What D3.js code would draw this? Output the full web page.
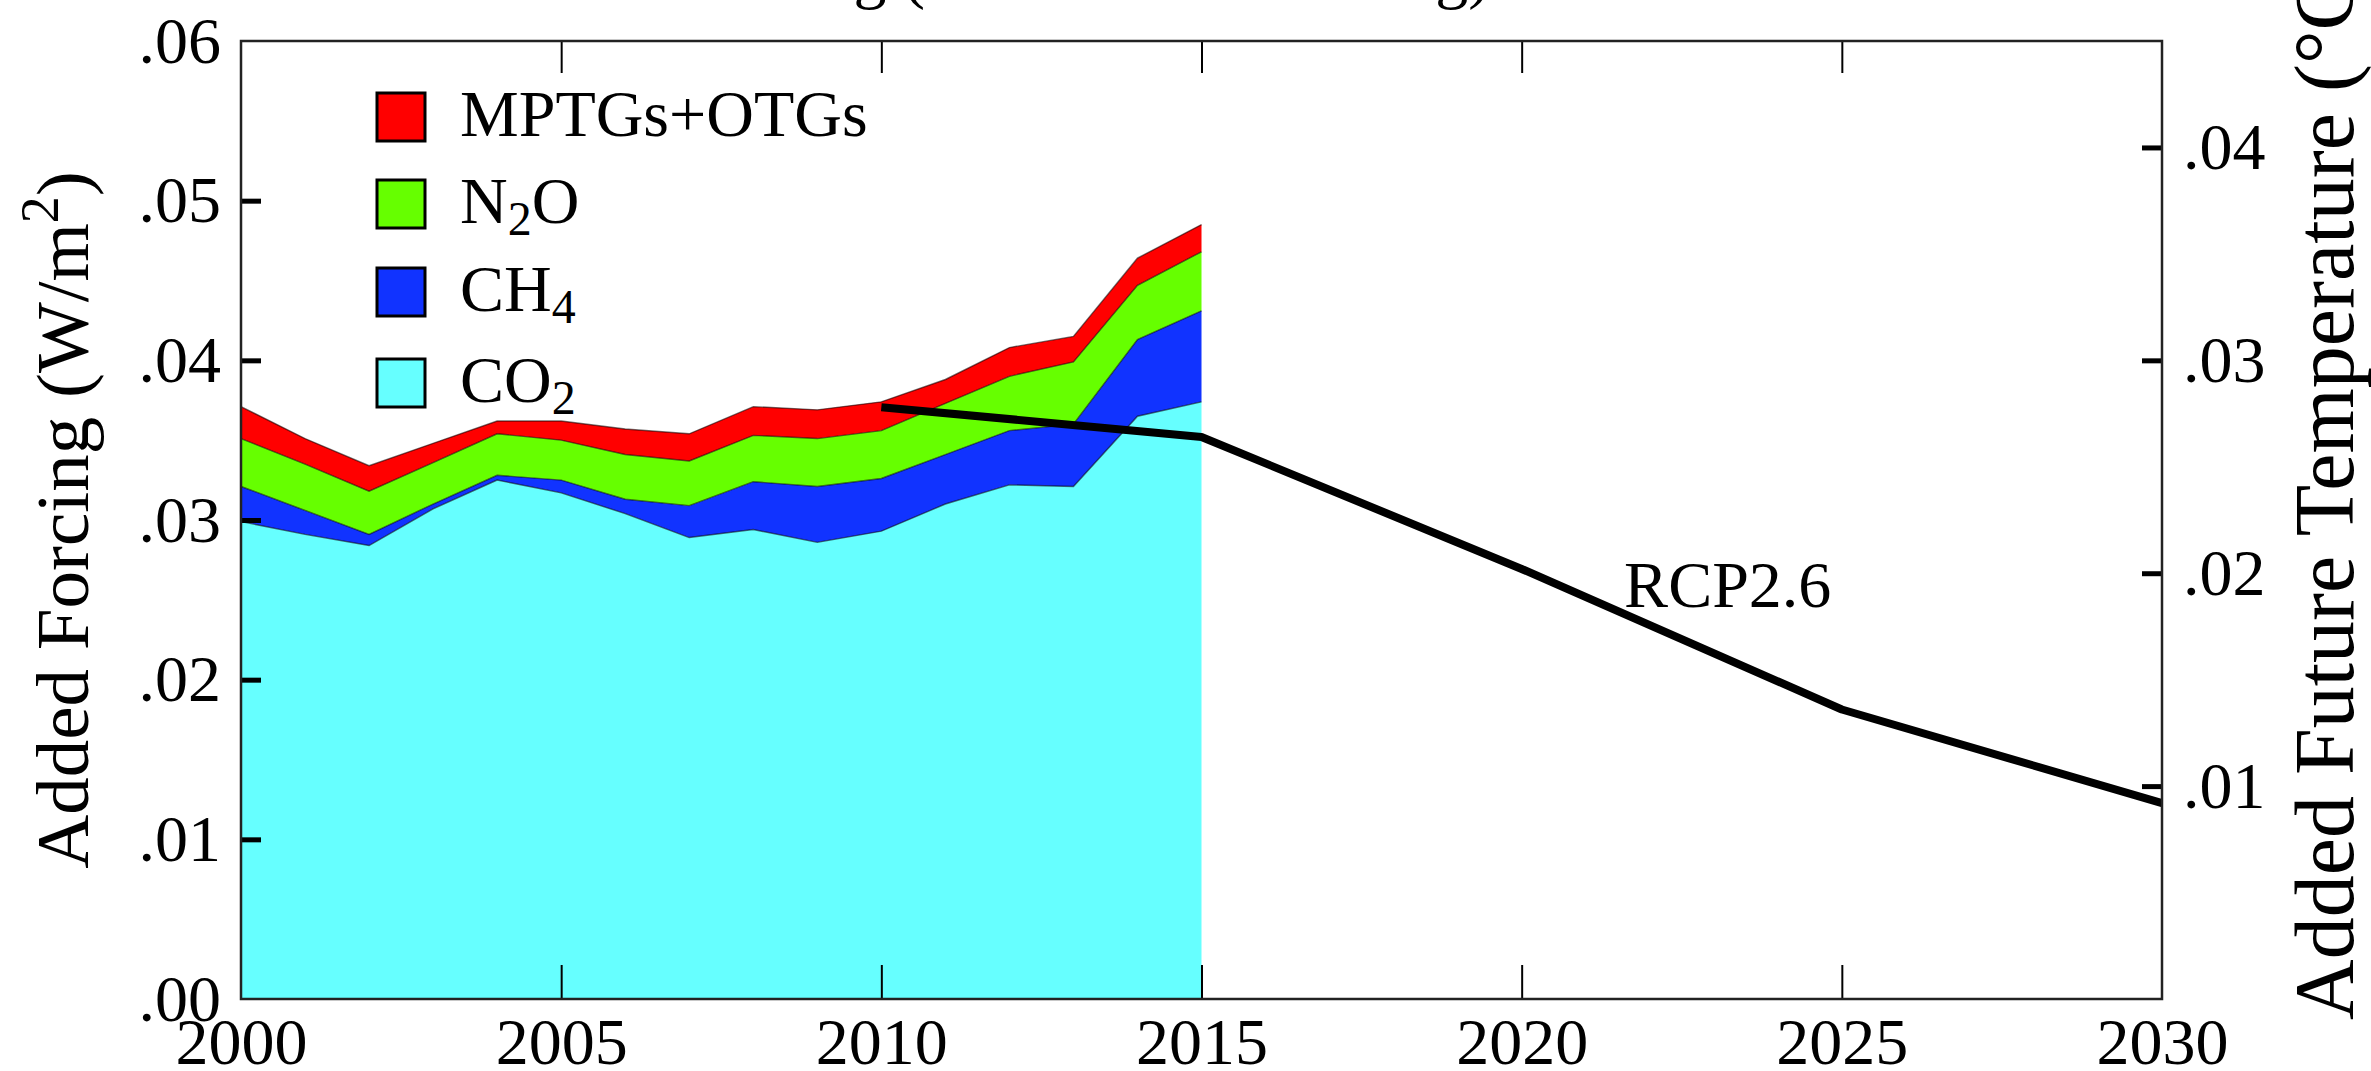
<!DOCTYPE html>
<html>
<head>
<meta charset="utf-8">
<script src="https://cdn.jsdelivr.net/npm/d3@7"></script>
<style>
  html, body { margin: 0; padding: 0; background: #fff; overflow: hidden; }
  svg { display: block; }
  text { font-family: "Liberation Serif", "Times New Roman", serif; fill: #000; }
</style>
</head>
<body>
<svg id="chart" width="2371" height="1071"></svg>
<script>
// Annual added forcing (W/m2) by gas, 2000-2015
const years      = [2000, 2001, 2002, 2003, 2004, 2005, 2006, 2007, 2008, 2009, 2010, 2011, 2012, 2013, 2014, 2015];
const co2        = [0.0299, 0.0291, 0.0284, 0.0307, 0.0325, 0.0317, 0.0304, 0.0289, 0.0294, 0.0286, 0.0293, 0.0310, 0.0322, 0.0321, 0.0365, 0.0374];
const ch4        = [0.0022, 0.0015, 0.0007, 0.0003, 0.0003, 0.0008, 0.0009, 0.0020, 0.0030, 0.0035, 0.0033, 0.0031, 0.0034, 0.0039, 0.0048, 0.0057];
const n2o        = [0.0030, 0.0029, 0.0027, 0.0026, 0.0026, 0.0025, 0.0028, 0.0028, 0.0029, 0.0030, 0.0030, 0.0032, 0.0034, 0.0039, 0.0034, 0.0037];
const otherGases = [0.0020, 0.0016, 0.0016, 0.0012, 0.0008, 0.0012, 0.0016, 0.0017, 0.0018, 0.0018, 0.0018, 0.0015, 0.0018, 0.0016, 0.0017, 0.0017];

// RCP2.6 added future temperature (deg C)
const rcpYears = [2010, 2015, 2020, 2025, 2030];
const rcpTemp  = [0.0278, 0.0264, 0.0202, 0.0136, 0.0092];

// Axis ticks
const yearTicks    = [2000, 2005, 2010, 2015, 2020, 2025, 2030];
const forcingTicks = [0, 0.01, 0.02, 0.03, 0.04, 0.05, 0.06];
const tempTicks    = [0.01, 0.02, 0.03, 0.04];

// Series keys, colours and legend labels (bottom of stack first)
const seriesKeys   = ["co2", "ch4", "n2o", "other"];
const seriesColors = ["#66ffff", "#1133ff", "#66ff00", "#ff0000"];
const seriesLabels = [
  [["CO", false], ["2", true]],
  [["CH", false], ["4", true]],
  [["N", false], ["2", true], ["O", false]],
  [["MPTGs+OTGs", false]]
];

const titleText = "Added Forcing (and Future Warming)";
const leftTitle = "Added Forcing (W/m";
const rightTitle = "Added Future Temperature (\u00B0C)";

// ---------------------------------------------------------------
const svg = d3.select("#chart");
const plot = { left: 241, right: 2162, top: 41, bottom: 999 };

const x  = d3.scaleLinear().domain([2000, 2030]).range([plot.left, plot.right]);
const yL = d3.scaleLinear().domain([0, 0.06]).range([plot.bottom, plot.top]);
const yR = d3.scaleLinear().domain([0, 0.045]).range([plot.bottom, plot.top]);

const rows = years.map((yr, i) => ({ year: yr, co2: co2[i], ch4: ch4[i], n2o: n2o[i], other: otherGases[i] }));
const stacked = d3.stack().keys(seriesKeys)(rows);

const area = d3.area()
  .x(d => x(d.data.year))
  .y0(d => yL(d[0]))
  .y1(d => yL(d[1]));

const topEdge = d3.line()
  .x(d => x(d.data.year))
  .y(d => yL(d[1]));

// stacked areas
const layers = svg.append("g");
layers.selectAll("path.layer")
  .data(stacked)
  .join("path")
  .attr("class", "layer")
  .attr("fill", (d, i) => seriesColors[i])
  .attr("d", area);

// thin dark edges on layer boundaries
layers.selectAll("path.edge")
  .data(stacked)
  .join("path")
  .attr("class", "edge")
  .attr("fill", "none")
  .attr("stroke", "#000")
  .attr("stroke-opacity", 0.55)
  .attr("stroke-width", 1.4)
  .attr("d", topEdge);

// RCP2.6 temperature projection
const rcpLine = d3.line()
  .x(d => x(d[0]))
  .y(d => yR(d[1]));
svg.append("path")
  .datum(rcpYears.map((yr, i) => [yr, rcpTemp[i]]))
  .attr("fill", "none")
  .attr("stroke", "#000")
  .attr("stroke-width", 8)
  .attr("stroke-linejoin", "round")
  .attr("d", rcpLine);

svg.append("text")
  .attr("x", x(2021.6))
  .attr("y", yR(0.0184))
  .attr("font-size", 66)
  .text("RCP2.6");

// legend
const legend = svg.append("g");
const legendTop = [93, 180, 268, 359];
const order = [3, 2, 1, 0];
order.forEach((si, row) => {
  const ty = legendTop[row];
  legend.append("rect")
    .attr("x", 377).attr("y", ty)
    .attr("width", 48).attr("height", 48)
    .attr("fill", seriesColors[si])
    .attr("stroke", "#000").attr("stroke-width", 3);
  const t = legend.append("text")
    .attr("x", 460).attr("y", ty + 43)
    .attr("font-size", 66);
  seriesLabels[si].forEach(([s, sub]) => {
    const ts = t.append("tspan").text(s);
    if (sub) ts.attr("font-size", 48).attr("dy", 12);
    else ts.attr("dy", t.selectAll("tspan").size() > 1 ? -12 : 0);
  });
});

// axes
const fmtForcing = d => d3.format(".2f")(d).replace(/^0/, "");

function styleAxis(g, fontSize) {
  g.select(".domain").remove();
  g.selectAll("text")
    .attr("font-family", "'Liberation Serif', 'Times New Roman', serif")
    .attr("font-size", fontSize)
    .attr("fill", "#000");
}

const leftAxis = svg.append("g")
  .attr("transform", `translate(${plot.left},0)`)
  .call(d3.axisLeft(yL).tickValues(forcingTicks).tickFormat(fmtForcing)
    .tickSizeInner(-20).tickSizeOuter(0).tickPadding(20))
  .call(g => styleAxis(g, 66));
leftAxis.selectAll(".tick line")
  .attr("stroke", "#000").attr("stroke-width", 5)
  .attr("display", d => (d === 0 || d === 0.06) ? "none" : null);

const rightAxis = svg.append("g")
  .attr("transform", `translate(${plot.right},0)`)
  .call(d3.axisRight(yR).tickValues(tempTicks).tickFormat(fmtForcing)
    .tickSizeInner(-20).tickSizeOuter(0).tickPadding(21))
  .call(g => styleAxis(g, 66));
rightAxis.selectAll(".tick line").attr("stroke", "#000").attr("stroke-width", 5);

const bottomAxis = svg.append("g")
  .attr("transform", `translate(0,${plot.bottom})`)
  .call(d3.axisBottom(x).tickValues(yearTicks).tickFormat(d3.format("d"))
    .tickSizeInner(-34).tickSizeOuter(0).tickPadding(18))
  .call(g => styleAxis(g, 66));
bottomAxis.selectAll(".tick line")
  .attr("stroke", "#000").attr("stroke-width", 2)
  .attr("display", d => (d === 2000 || d === 2030) ? "none" : null);

const topAxis = svg.append("g")
  .attr("transform", `translate(0,${plot.top})`)
  .call(d3.axisTop(x).tickValues(yearTicks).tickFormat("")
    .tickSizeInner(-32).tickSizeOuter(0))
  .call(g => g.select(".domain").remove());
topAxis.selectAll(".tick line")
  .attr("stroke", "#000").attr("stroke-width", 2)
  .attr("display", d => (d === 2000 || d === 2030) ? "none" : null);

// frame
svg.append("rect")
  .attr("x", plot.left).attr("y", plot.top)
  .attr("width", plot.right - plot.left).attr("height", plot.bottom - plot.top)
  .attr("fill", "none").attr("stroke", "#222").attr("stroke-width", 2.5);

// axis titles
const lt = svg.append("text")
  .attr("transform", `translate(88,${(plot.top + plot.bottom) / 2}) rotate(-90)`)
  .attr("text-anchor", "middle")
  .attr("font-size", 75);
lt.append("tspan").text(leftTitle);
lt.append("tspan").attr("font-size", 54).attr("dy", -30).text("2");
lt.append("tspan").attr("dy", 30).text(")");

svg.append("text")
  .attr("transform", "translate(2353,1020) rotate(-90)")
  .attr("font-size", 84)
  .text(rightTitle);

// chart title (sits mostly above the top edge)
const title = svg.append("text")
  .attr("y", -4)
  .attr("font-size", 66)
  .text(titleText);
const prefixLen = title.node().getSubStringLength(0, titleText.indexOf("("));
title.attr("x", 903 - prefixLen);
</script>
</body>
</html>
